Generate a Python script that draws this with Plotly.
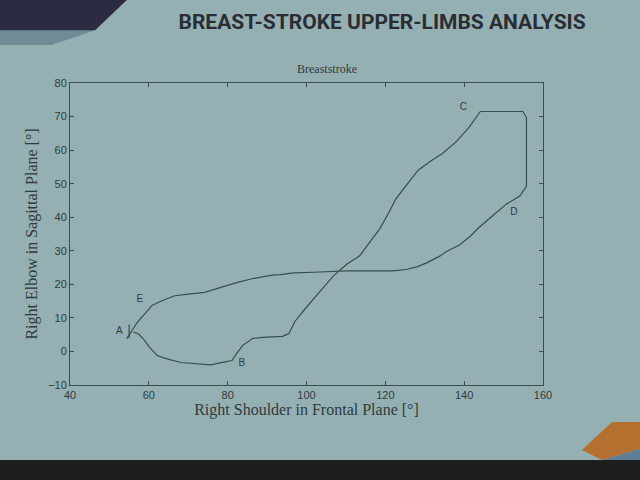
import plotly.graph_objects as go

# Right shoulder (frontal plane) vs right elbow (sagittal plane), one breaststroke cycle
# points, path goes A -> B -> C -> D -> E -> A
shoulder_deg = [56.1, 57.4, 58.7, 60.2, 62.2, 64.8, 68.2, 72.4, 75.7, 79.0, 81.1, 82.3,
                83.9, 86.4, 88.9, 93.9, 95.5, 97.1, 99.5, 103.6, 106.9, 110.2, 113.5,
                116.0, 118.5, 120.9, 122.6, 125.1, 128.4, 131.8, 134.4, 137.8, 141.2,
                144.1, 154.9, 155.8, 155.8, 154.1, 150.7, 147.3, 143.9, 141.4, 138.9,
                135.5, 133.8, 130.5, 128.0, 125.5, 122.1, 118.7, 110.3, 101.8, 96.7,
                93.4, 91.7, 86.7, 82.5, 78.3, 74.1, 70.0, 66.6, 63.3, 60.8, 59.2, 57.2,
                56.1, 54.4]
elbow_deg = [5.8, 5.2, 3.6, 1.2, -1.3, -2.3, -3.3, -3.8, -4.0, -3.2, -2.7, -0.6,
             1.9, 3.9, 4.2, 4.5, 5.3, 9.0, 12.5, 18.1, 22.6, 26.0, 28.5,
             32.5, 36.4, 41.4, 45.3, 49.2, 54.1, 57.0, 58.9, 62.3, 66.7,
             71.5, 71.5, 69.7, 49.2, 46.3, 43.9, 40.5, 37.1, 34.2, 31.8,
             29.8, 28.4, 26.4, 25.2, 24.5, 24.0, 24.0, 24.0, 23.6, 23.4,
             22.9, 22.8, 21.8, 20.6, 19.1, 17.6, 17.1, 16.6, 15.1, 13.7, 11.5, 8.9,
             6.9, 3.8]

# small start marker next to A
start_x = [55.0, 55.0]
start_y = [4.0, 8.0]

phase_labels = ["A", "B", "C", "D", "E"]
phase_x = [52.5, 83.6, 139.8, 152.6, 57.7]
phase_y = [5.8, -3.7, 72.6, 41.5, 15.5]

x_ticks = [40, 60, 80, 100, 120, 140, 160]
y_ticks = [-10, 0, 10, 20, 30, 40, 50, 60, 70, 80]

slide_bg = "#95b0b2"
ink = "#3b4c4f"
text_col = "#2f3b3d"

fig = go.Figure()

fig.add_trace(go.Scatter(
    x=shoulder_deg, y=elbow_deg,
    mode="lines",
    line=dict(color=ink, width=1.2),
    showlegend=False,
    hoverinfo="skip",
))

fig.add_trace(go.Scatter(
    x=start_x, y=start_y,
    mode="lines",
    line=dict(color=ink, width=1.2),
    showlegend=False,
    hoverinfo="skip",
))

fig.add_trace(go.Scatter(
    x=phase_x, y=phase_y,
    mode="text",
    text=phase_labels,
    textfont=dict(family="Liberation Sans", size=10, color=text_col),
    showlegend=False,
    hoverinfo="skip",
))

# slide decorations: chevrons top-left, accent bottom-right, dark strip at the bottom
fig.add_shape(type="path", xref="paper", yref="paper",
              path="M -0.2 1.18 L 0.06 1.18 L 0.035 1.165 L -0.04 1.126 L -0.2 1.126 Z",
              fillcolor="#6f8b95", line_width=0, layer="below")
fig.add_shape(type="path", xref="paper", yref="paper",
              path="M -0.2 1.3 L 0.137 1.3 L 0.053 1.175 L -0.2 1.175 Z",
              fillcolor="#2b2c42", line_width=0, layer="below")
fig.add_shape(type="path", xref="paper", yref="paper",
              path="M 1.146 -0.1225 L 1.21 -0.1225 L 1.21 -0.2086 L 1.125 -0.248 L 1.082 -0.215 Z",
              fillcolor="#b5702f", line_width=0, layer="below")
fig.add_shape(type="path", xref="paper", yref="paper",
              path="M 1.125 -0.248 L 1.21 -0.2086 L 1.21 -0.26 L 1.116 -0.26 Z",
              fillcolor="#5f7f95", line_width=0, layer="below")
fig.add_shape(type="rect", xref="paper", yref="paper",
              x0=-0.2, x1=1.21, y0=-0.35, y1=-0.248,
              fillcolor="#1e1e1e", line_width=0, layer="below")

fig.add_annotation(
    text="Breaststroke", xref="paper", yref="paper",
    x=0.543, y=1.015, xanchor="center", yanchor="bottom",
    showarrow=False,
    font=dict(family="Liberation Serif", size=12, color=text_col),
)

fig.update_layout(
    width=640, height=480,
    margin=dict(l=70, r=97, t=83, b=95),
    paper_bgcolor=slide_bg,
    plot_bgcolor=slide_bg,
    title=dict(
        text="<b>BREAST-STROKE UPPER-LIMBS ANALYSIS</b>",
        x=0.597, xanchor="center", y=0.955, yanchor="middle",
        font=dict(family="Roboto", size=21, color="#2a2d33"),
    ),
)

fig.update_xaxes(
    range=[40, 160], tickvals=x_ticks,
    showline=True, linecolor=ink, linewidth=1, mirror="ticks",
    ticks="inside", ticklen=4, tickcolor=ink,
    showgrid=False, zeroline=False, automargin=False,
    tickfont=dict(family="Liberation Sans", size=11, color=text_col),
    title=dict(text="Right Shoulder in Frontal Plane [°]", standoff=0,
               font=dict(family="Liberation Serif", size=16, color=text_col)),
)
fig.update_yaxes(
    range=[-10, 80], tickvals=y_ticks,
    showline=True, linecolor=ink, linewidth=1, mirror="ticks",
    ticks="inside", ticklen=4, tickcolor=ink,
    showgrid=False, zeroline=False, automargin=False,
    tickfont=dict(family="Liberation Sans", size=11, color=text_col),
    title=dict(text="Right Elbow in Sagittal Plane [°]", standoff=6,
               font=dict(family="Liberation Serif", size=16, color=text_col)),
)

# the page has a default 8px body margin; drop it so the slide fills the window
fig.write_html("out.html", config={"displayModeBar": False},
               post_script="document.body.style.margin = '0';")
